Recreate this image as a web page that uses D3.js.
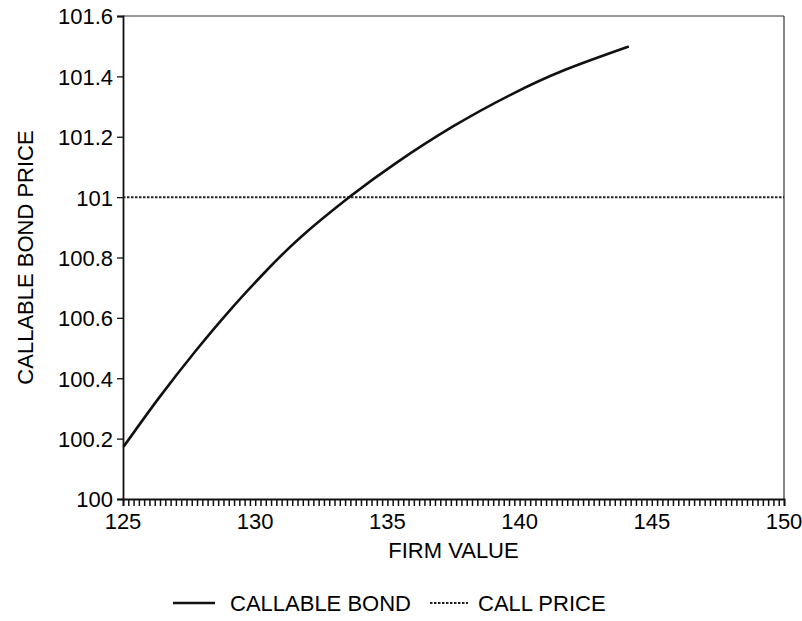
<!DOCTYPE html>
<html>
<head>
<meta charset="utf-8">
<script src="https://cdn.jsdelivr.net/npm/d3@7"></script>
<style>
  html, body { margin: 0; padding: 0; background: #fff; }
  svg text { font-family: "Liberation Sans", Arial, Helvetica, sans-serif; fill: #000; }
</style>
</head>
<body>
<svg id="chart" width="802" height="621"></svg>
<script>
// ---- data ----
const firmValue = [125.02, 126.36, 127.76, 129.05, 130.32, 131.73, 133.65, 135.31, 137.48, 139.66, 141.70, 144.13];
const callableBond = [100.173, 100.335, 100.492, 100.626, 100.747, 100.868, 101.006, 101.112, 101.234, 101.339, 101.421, 101.499];
const callFirmValue = [125, 150];
const callPrice = [101, 101];
const xTickValues = [125, 130, 135, 140, 145, 150];
const yTickValues = [100, 100.2, 100.4, 100.6, 100.8, 101, 101.2, 101.4, 101.6];
const yTickLabels = ["100", "100.2", "100.4", "100.6", "100.8", "101", "101.2", "101.4", "101.6"];
const seriesNames = ["CALLABLE BOND", "CALL PRICE"];

(function () {
// ---- layout ----
const svg = d3.select("#chart");
const pL = 123, pR = 784, pT = 16, pB = 499;
const x = d3.scaleLinear().domain([125, 150]).range([pL, pR]);
const y = d3.scaleLinear().domain([100, 101.6]).range([pB, pT]);
const FS = 22;

// frame (top/right)
svg.append("line").attr("x1", pL).attr("x2", pR).attr("y1", pT).attr("y2", pT)
  .attr("stroke", "#333").attr("stroke-width", 1);
svg.append("line").attr("x1", pR).attr("x2", pR).attr("y1", pT).attr("y2", pB)
  .attr("stroke", "#333").attr("stroke-width", 1.2);

// x axis with minor ticks every 0.2
const minorTicks = d3.range(0, 126).map(i => 125 + i * 0.2);
const xAxis = d3.axisBottom(x).tickValues(minorTicks).tickSize(7).tickFormat("");
const gx = svg.append("g").attr("transform", `translate(0,${pB})`).call(xAxis);
gx.select(".domain").attr("stroke", "#111").attr("stroke-width", 1.8);
gx.selectAll(".tick line").attr("stroke", "#111").attr("stroke-width", 1.5);
svg.append("g").selectAll("text").data(xTickValues).join("text")
  .attr("x", d => x(d)).attr("y", 529)
  .attr("text-anchor", "middle").attr("font-size", FS).text(d => d);

// y axis
const yAxis = d3.axisLeft(y).tickValues(yTickValues).tickSize(6).tickPadding(4)
  .tickFormat((d, i) => yTickLabels[i]);
const gy = svg.append("g").attr("transform", `translate(${pL},0)`).call(yAxis);
gy.select(".domain").attr("stroke", "#111").attr("stroke-width", 1.8);
gy.selectAll(".tick line").attr("stroke", "#111").attr("stroke-width", 1.3);
gy.selectAll(".tick text").attr("font-size", FS).attr("dy", "0.36em")
  .style("font-family", '"Liberation Sans", Arial, sans-serif').attr("fill", "#000");

// axis titles
svg.append("text").attr("x", (pL + pR) / 2).attr("y", 558)
  .attr("text-anchor", "middle").attr("font-size", FS).text("FIRM VALUE");
svg.append("text").attr("transform", `translate(33,${(pT + pB) / 2}) rotate(-90)`)
  .attr("text-anchor", "middle").attr("font-size", FS).text("CALLABLE BOND PRICE");

// call price line (dotted)
const callData = callFirmValue.map((d, i) => [d, callPrice[i]]);
svg.append("path").datum(callData)
  .attr("d", d3.line().x(d => x(d[0])).y(d => y(d[1])))
  .attr("fill", "none").attr("stroke", "#222").attr("stroke-width", 2)
  .attr("stroke-dasharray", "2.5,1.5");

// callable bond curve
const bondData = firmValue.map((d, i) => [d, callableBond[i]]);
svg.append("path").datum(bondData)
  .attr("d", d3.line().x(d => x(d[0])).y(d => y(d[1])).curve(d3.curveNatural))
  .attr("fill", "none").attr("stroke", "#111").attr("stroke-width", 2.6)
  .attr("stroke-linejoin", "round");

// legend
const ly = 603;
svg.append("line").attr("x1", 173).attr("x2", 215).attr("y1", ly).attr("y2", ly)
  .attr("stroke", "#111").attr("stroke-width", 2.5);
svg.append("text").attr("x", 230).attr("y", 611).attr("font-size", FS).text(seriesNames[0]);
svg.append("line").attr("x1", 430).attr("x2", 468).attr("y1", ly).attr("y2", ly)
  .attr("stroke", "#222").attr("stroke-width", 2).attr("stroke-dasharray", "2.5,1.5");
svg.append("text").attr("x", 478).attr("y", 611).attr("font-size", FS).text(seriesNames[1]);
})();
</script>
</body>
</html>
